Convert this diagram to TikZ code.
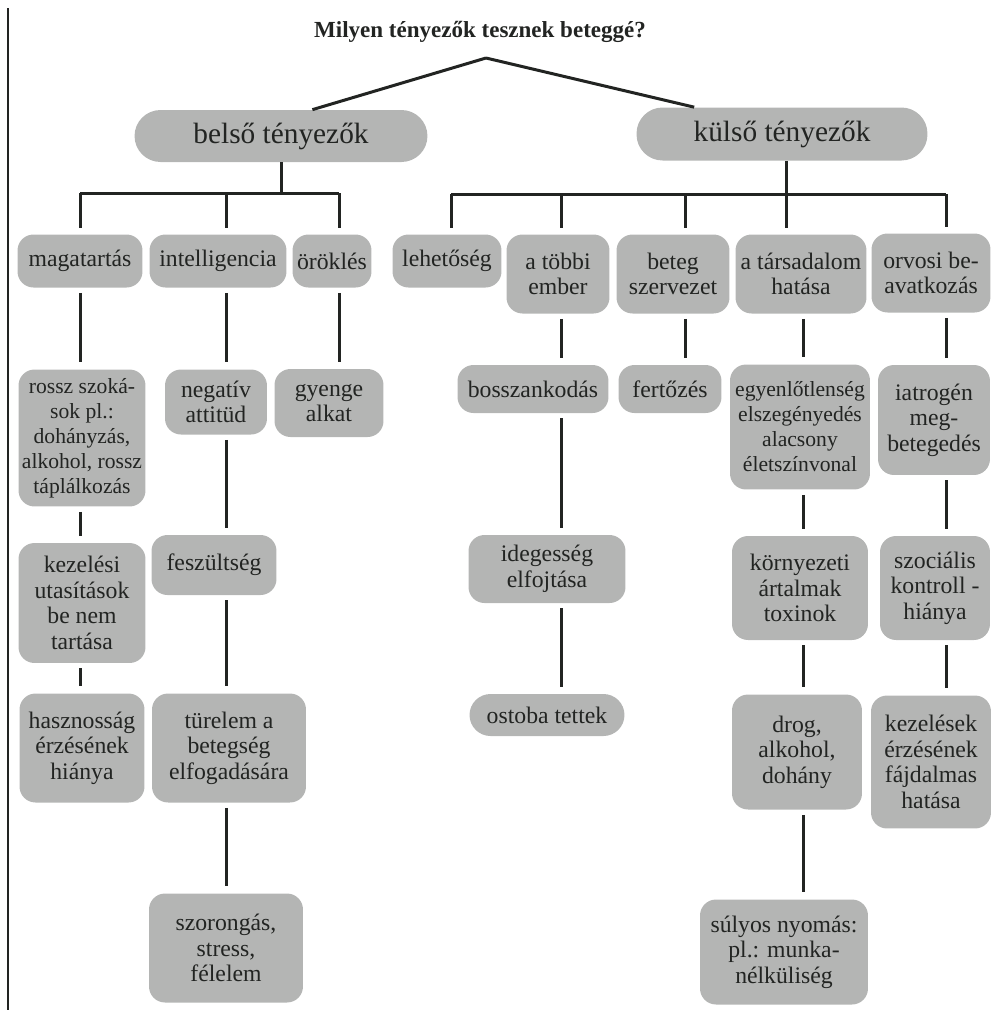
\documentclass[tikz,border=0pt]{standalone}
\usepackage{fontspec}
\setmainfont{Liberation Serif}
\usepackage{tikz}
\definecolor{boxgray}{RGB}{180,181,180}
\definecolor{inkgray}{RGB}{34,36,34}

\begin{document}
\begin{tikzpicture}[x=0.02cm, y=-0.02cm,
  box/.style={fill=boxgray, rounded corners=0.32cm, inner sep=0.04cm,
       align=center, text=inkgray, font=\fontsize{13.5}{14.5}\selectfont},
  smallbox/.style={box, font=\fontsize{12.3}{14.2}\selectfont},
  bigbox/.style={box, rounded corners=0.52cm, font=\fontsize{16.7}{18}\selectfont},
  bar/.style={line width=0.06cm, inkgray},
  link/.style={bar, shorten <=0.1cm, shorten >=0.14cm},
  drop/.style={bar, shorten >=0.12cm}]

\useasboundingbox (0,0) rectangle (992,1012);
\draw[line width=0.04cm, inkgray] (8,8) -- (8,1010);

\draw (480,32) node[text=inkgray, font=\bfseries\fontsize{13.1}{15}\selectfont] (title) {Milyen tényezők tesznek beteggé?};
\coordinate (apex) at (486,58);

\draw (281,136) node[bigbox, minimum width=5.86cm, minimum height=1.04cm] (belso) {belső tényezők};
\draw (782,134) node[bigbox, minimum width=5.82cm, minimum height=1.06cm] (kulso) {külső tényezők};

\draw (80,261) node[box, minimum width=2.5cm, minimum height=1.06cm] (magatartas) {magatartás};
\draw (218,261) node[box, minimum width=2.74cm, minimum height=1.06cm] (intelligencia) {intelligencia};
\draw (332,261) node[box, minimum width=1.58cm, minimum height=1.06cm] (orokles) {öröklés};
\draw (447,261) node[box, minimum width=2.18cm, minimum height=1.06cm] (lehetoseg) {lehetőség};
\draw (558,274) node[box, minimum width=2.06cm, minimum height=1.58cm] (tobbi) {a többi\\ember};
\draw (673,274) node[box, minimum width=2.26cm, minimum height=1.58cm] (beteg) {beteg\\szervezet};
\draw (801,274) node[box, minimum width=2.62cm, minimum height=1.58cm] (tarsadalom) {a társadalom\\hatása};
\draw (931,273) node[box, minimum width=2.38cm, minimum height=1.58cm] (orvosi) {orvosi be-\\avatkozás};

\draw (82,438) node[smallbox, minimum width=2.54cm, minimum height=2.74cm] (rossz) {rossz szoká-\\sok pl.:\\dohányzás,\\alkohol, rossz\\táplálkozás};
\draw (216,402) node[box, minimum width=2.04cm, minimum height=1.3cm] (negativ) {negatív\\attitüd};
\draw (329,403) node[box, minimum width=2.18cm, minimum height=1.36cm] (gyenge) {gyenge\\alkat};
\draw (533,389) node[box, minimum width=3.02cm, minimum height=0.96cm] (bossz) {bosszankodás};
\draw (670,389) node[box, minimum width=2.06cm, minimum height=0.96cm] (fertozes) {fertőzés};
\draw (800,427) node[smallbox, minimum width=2.8cm, minimum height=2.5cm] (egyenlo) {egyenlőtlenség\\elszegényedés\\alacsony\\életszínvonal};
\draw (934,420) node[box, minimum width=2.24cm, minimum height=2.2cm] (iatrogen) {iatrogén\\meg-\\betegedés};

\draw (82,603) node[box, minimum width=2.54cm, minimum height=2.4cm] (kezelesi) {kezelési\\utasítások\\be nem\\tartása};
\draw (214,565) node[box, minimum width=2.5cm, minimum height=1.2cm] (feszultseg) {feszültség};
\draw (547,569) node[box, minimum width=3.14cm, minimum height=1.36cm] (idegesseg) {idegesség\\elfojtása};
\draw (800,588) node[box, minimum width=2.72cm, minimum height=2.08cm] (kornyezeti) {környezeti\\ártalmak\\toxinok};
\draw (935,588) node[box, minimum width=2.2cm, minimum height=2.08cm] (szocialis) {szociális\\kontroll -\\hiánya};

\draw (82,748) node[box, minimum width=2.5cm, minimum height=2.18cm] (hasznossag) {hasznosság\\érzésének\\hiánya};
\draw (229,748) node[box, minimum width=3.08cm, minimum height=2.18cm] (turelem) {türelem a\\betegség\\elfogadására};
\draw (547,715) node[box, rounded corners=0.42cm, minimum width=3.1cm, minimum height=0.84cm] (ostoba) {ostoba tettek};
\draw (797,752) node[box, minimum width=2.6cm, minimum height=2.3cm] (drog) {drog,\\alkohol,\\dohány};
\draw (931,762) node[box, minimum width=2.4cm, minimum height=2.66cm] (kezelesek) {kezelések\\érzésének\\fájdalmas\\hatása};

\draw (226,948) node[box, minimum width=3.08cm, minimum height=2.18cm] (szorongas) {szorongás,\\stress,\\félelem};
\draw (784,952) node[box, minimum width=3.36cm, minimum height=2.1cm] (sulyos) {súlyos nyomás:\\pl.: munka-\\nélküliség};

\coordinate (lbar) at (0,193);
\coordinate (rbar) at (0,194);
\coordinate (ca) at (80,0);
\coordinate (cb) at (226,0);
\coordinate (cc) at (339,0);
\coordinate (cd) at (451,0);
\coordinate (ce) at (561,0);
\coordinate (cf) at (685,0);
\coordinate (ck) at (786,0);
\coordinate (cg) at (803,0);
\coordinate (ch) at (946,0);

\draw[bar] (apex) -- (belso.40);
\draw[bar] (apex) -- (kulso.163);

\draw[bar] (belso.south) -- (belso.south |- lbar);
\draw[bar] (lbar -| ca) -- (lbar -| cc);
\draw[bar] (kulso.south -| ck) -- (rbar -| ck);
\draw[bar] (rbar -| cd) -- (rbar -| ch);

\foreach \c/\n in {ca/magatartas, cb/intelligencia, cc/orokles}
  \draw[drop] (lbar -| \c) -- (\n.north -| \c);
\foreach \c/\n in {cd/lehetoseg, ce/tobbi, cf/beteg, ck/tarsadalom, ch/orvosi}
  \draw[drop] (rbar -| \c) -- (\n.north -| \c);

\foreach \c/\a/\b in {ca/magatartas/rossz, ca/rossz/kezelesi, ca/kezelesi/hasznossag,
    cb/intelligencia/negativ, cb/negativ/feszultseg, cb/feszultseg/turelem, cb/turelem/szorongas,
    cc/orokles/gyenge,
    ce/tobbi/bossz, ce/bossz/idegesseg, ce/idegesseg/ostoba,
    cf/beteg/fertozes,
    cg/tarsadalom/egyenlo, cg/egyenlo/kornyezeti, cg/kornyezeti/drog, cg/drog/sulyos,
    ch/orvosi/iatrogen, ch/iatrogen/szocialis, ch/szocialis/kezelesek}
  \draw[link] (\a.south -| \c) -- (\b.north -| \c);
\end{tikzpicture}
\end{document}
